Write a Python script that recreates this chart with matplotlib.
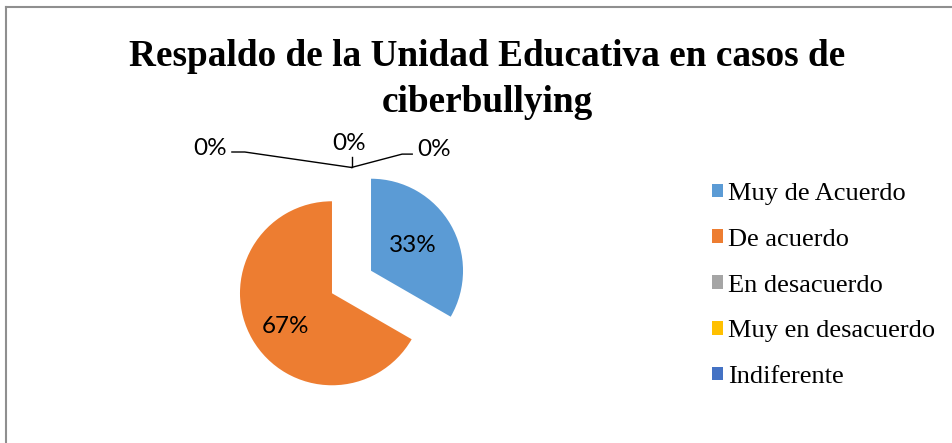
import numpy as np
import matplotlib.pyplot as plt
from matplotlib.patches import Patch
from matplotlib.lines import Line2D

categorias = ["Muy de Acuerdo", "De acuerdo", "En desacuerdo", "Muy en desacuerdo", "Indiferente"]
valores = [33.33, 66.67, 0, 0, 0]
colores = ["#5B9BD5", "#ED7D31", "#A5A5A5", "#FFC000", "#4472C4"]
titulo = "Respaldo de la Unidad Educativa en casos de\nciberbullying"

W, H = 953, 443
fig = plt.figure(figsize=(W / 100, H / 100), dpi=100)

# borde del grafico (solo izquierda y arriba se ven)
fig.add_artist(Line2D([6 / W, 6 / W], [0, 1 - 7 / H], color="#8f8f8f", lw=1.5))
fig.add_artist(Line2D([6 / W, 1], [1 - 7 / H, 1 - 7 / H], color="#8f8f8f", lw=1.5))

fig.text(487 / W, 1 - 39 / H, titulo, ha="center", va="top", fontsize=26.8,
         fontweight="bold", family="Liberation Serif", linespacing=1.4)

# pie: radio 92 px, centro (351.5, 282)
r_px = 92
lim = 1.6
cx, cy = 351.5, 282
size = 2 * lim * r_px
ax = fig.add_axes([(cx - size / 2) / W, (H - cy - size / 2) / H, size / W, size / H])
explode = [0.245] * len(valores)


def pct(p):
    return f"{p:.0f}%" if p > 0.5 else ""


wedges, _, autotexts = ax.pie(valores, colors=colores, startangle=90, counterclock=False,
                              explode=explode, autopct=pct, pctdistance=0.57,
                              textprops={"family": "Lato", "fontsize": 17.5})
# posiciones de las etiquetas como en el original
autotexts[0].set_position((0.668, 0.402))
autotexts[1].set_position((-0.712, -0.489))
ax.set_xlim(-lim, lim)
ax.set_ylim(-lim, lim)
ax.set_aspect("equal")
ax.axis("off")

# etiquetas de 0% arriba con lineas guia
top = 1 + explode[2]
pos_text = [(-1.54, 1.45), (-0.03, 1.50), (0.90, 1.44)]
guias = [[(0, top), (-1.16, 1.413), (-1.30, 1.413)],
         [(0, top), (0, top + 0.11)],
         [(0, top), (0.55, 1.39), (0.66, 1.39)]]
for (tx, ty), g in zip(pos_text, guias):
    xs, ys = zip(*g)
    ax.plot(xs, ys, color="black", lw=1, clip_on=False)
    ax.text(tx, ty, "0%", ha="center", va="center", family="Lato", fontsize=17.5)

handles = [Patch(facecolor=c, edgecolor="none") for c in colores]
fig.legend(handles, categorias, loc="upper left", bbox_to_anchor=(712 / W, 1 - 183 / H),
           frameon=False, prop={"family": "Liberation Serif", "size": 19},
           handlelength=0.42, handleheight=0.42, handletextpad=0.2,
           labelspacing=0.9, borderpad=0, borderaxespad=0)

fig.savefig("out.png", dpi=100)
